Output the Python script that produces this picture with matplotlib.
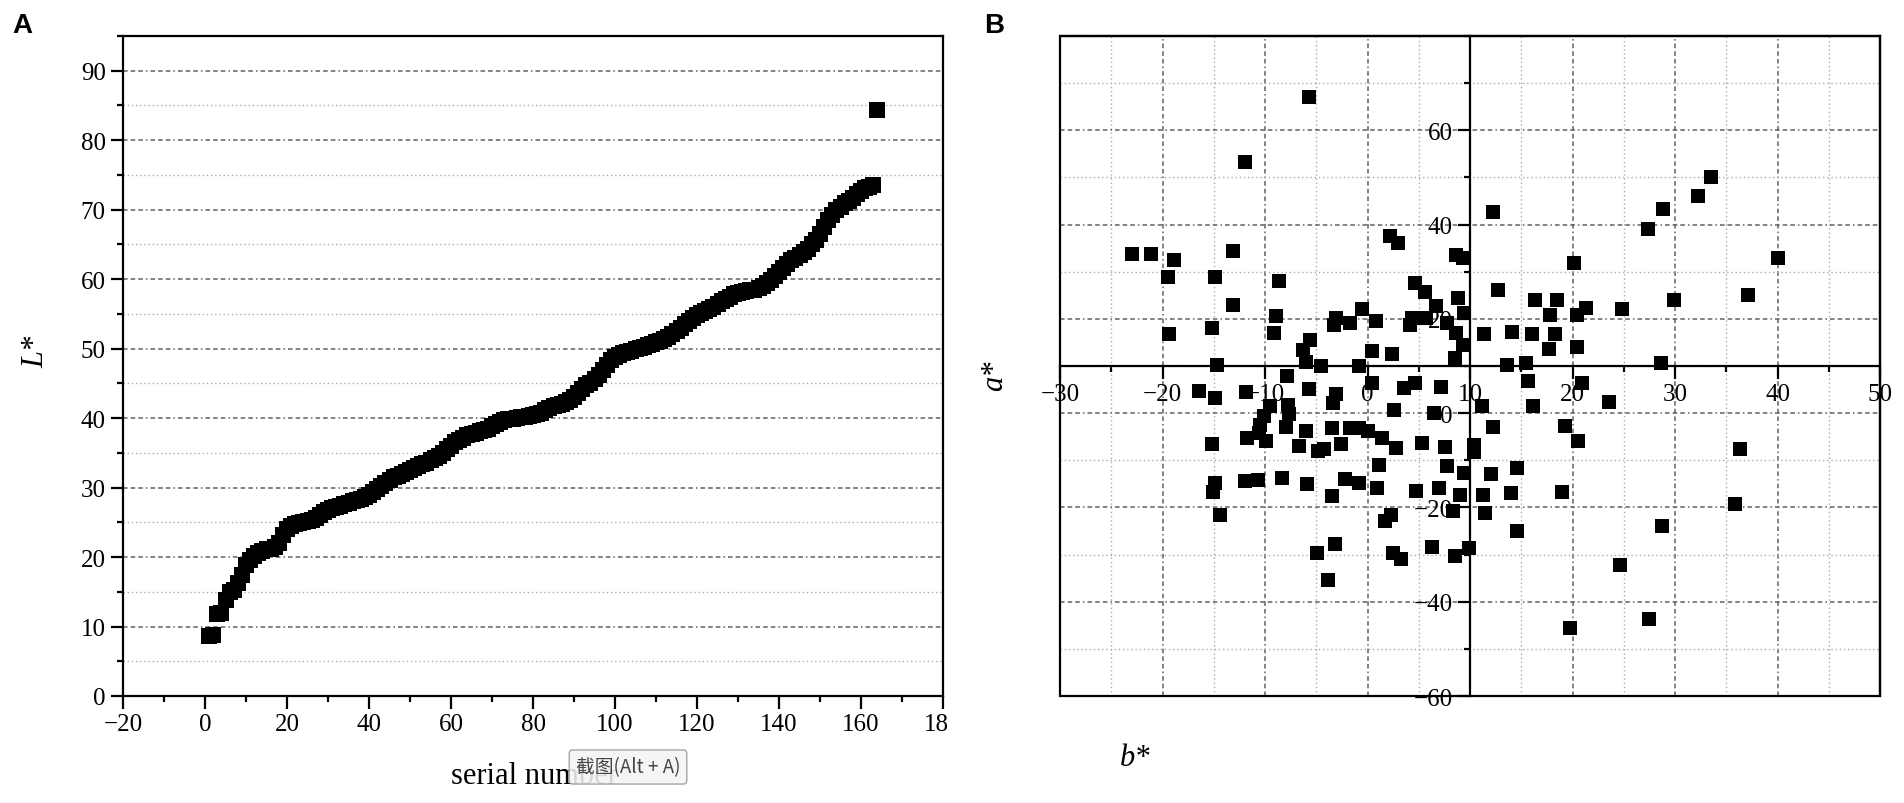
import numpy as np
import matplotlib.pyplot as plt
from matplotlib.ticker import MultipleLocator
from matplotlib.patches import Rectangle
from matplotlib.transforms import Bbox, TransformedBbox

plt.rcParams['font.family'] = ['Liberation Serif', 'DejaVu Serif']

# panel A: L* sorted by serial number
serial = np.arange(1, 165)
L_star = [
    8.6, 8.8, 11.8, 12.0, 13.8, 14.9, 15.3, 16.2, 17.4, 18.9,
    19.6, 20.2, 20.6, 20.9, 21.1, 21.2, 21.4, 22.0, 23.2, 24.0,
    24.4, 24.7, 24.9, 25.1, 25.2, 25.4, 25.6, 26.0, 26.5, 26.8,
    27.0, 27.2, 27.4, 27.6, 27.8, 28.0, 28.2, 28.4, 28.7, 29.0,
    29.4, 29.8, 30.2, 30.7, 31.1, 31.5, 31.7, 31.9, 32.2, 32.5,
    32.8, 33.1, 33.4, 33.6, 33.9, 34.2, 34.6, 35.0, 35.5, 36.0,
    36.5, 36.9, 37.2, 37.5, 37.7, 37.9, 38.1, 38.3, 38.5, 38.8,
    39.2, 39.5, 39.7, 39.8, 39.9, 40.0, 40.1, 40.2, 40.3, 40.4,
    40.6, 40.8, 41.1, 41.4, 41.7, 41.9, 42.1, 42.3, 42.6, 43.0,
    43.6, 44.2, 44.7, 45.1, 45.6, 46.2, 46.9, 47.6, 48.3, 48.8,
    49.1, 49.3, 49.5, 49.7, 49.9, 50.1, 50.3, 50.5, 50.7, 50.9,
    51.1, 51.4, 51.7, 52.1, 52.5, 53.0, 53.5, 54.0, 54.4, 54.8,
    55.1, 55.4, 55.7, 56.0, 56.4, 56.8, 57.2, 57.5, 57.8, 58.0,
    58.2, 58.3, 58.4, 58.5, 58.7, 59.0, 59.4, 59.9, 60.4, 61.0,
    61.6, 62.2, 62.7, 63.1, 63.5, 63.9, 64.4, 65.0, 65.7, 66.5,
    67.5, 68.5, 69.3, 69.9, 70.4, 70.9, 71.3, 71.7, 72.2, 72.7,
    73.1, 73.3, 73.5, 84.3,
]

# panel B: a* against b*
b_star = [
    -5.7, -12.0, -23.0, -21.1, -18.9, -19.5, -13.1, -14.9, -13.1, -8.6,
    -8.9, -9.1, -19.4, -15.2, -14.7, 2.2, 3.0, 8.6, 9.3, 4.6,
    5.6, 6.7, 4.3, 5.7, 4.1, 8.8, 7.8, 8.6, 8.5, 9.4,
    -3.1, -3.3, -1.75, -0.5, 0.8, 0.45, 2.4, -5.6, -6.3, -6.0,
    -4.5, -0.8, 9.3,
    12.2, 33.5, 32.2, 28.8, 27.4, 40.0, 20.1, 37.1, 29.9, 12.7,
    16.3, 18.5, 17.8, 20.4, 21.3, 24.8, 11.4, 14.1, 16.0, 18.3,
    17.7, 20.4, 13.6, 15.5, 28.6,
    -16.4, -14.9, -11.9, -7.9, -5.7, -3.1, -3.4,
    0.4, 3.6, 4.6, 7.2, 2.6, 6.5, -9.5, -10.1, -7.8, -7.7,
    -10.5, -10.6, -9.9, -11.75, -15.2, -8.0, -6.0, -6.7, -4.8, -4.2,
    -3.5, -2.6, -1.75, -0.8, 0.0, 1.4, 2.8, 1.1, 5.3, 7.6,
    7.8, 9.4, -12.0, -10.7, -8.3, -5.9, -2.2, -0.8, 0.9, -3.5,
    -14.9, -15.1, -14.4, 4.7, 7.0, 9.0, 8.3, 1.7, 2.3, 6.3,
    2.5, 3.3, 8.5, -4.9, -3.2, -3.9,
    15.7, 20.9, 11.2, 16.1, 23.6, 12.2, 19.3, 20.5,
    36.3, 10.4, 10.4, 12.0, 14.6, 11.3, 14.0, 19.0, 11.5, 14.6,
    35.9, 28.7, 24.6, 27.5, 19.8, 9.9,
]
a_star = [
    67.0, 53.3, 33.7, 33.7, 32.5, 28.9, 34.3, 28.9, 23.0, 28.0,
    20.7, 17.0, 16.8, 18.1, 10.2, 37.5, 36.1, 33.6, 33.0, 27.6,
    25.8, 22.7, 20.2, 20.2, 18.8, 24.4, 19.2, 17.0, 11.8, 21.3,
    20.2, 18.8, 19.2, 22.0, 19.5, 13.2, 12.5, 15.5, 13.5, 10.8,
    10.0, 10.0, 14.5,
    42.7, 50.1, 46.1, 43.2, 39.0, 32.9, 31.8, 25.1, 24.1, 26.2,
    24.1, 24.1, 20.9, 20.9, 22.3, 22.0, 16.7, 17.3, 16.8, 16.7,
    13.7, 14.1, 10.2, 10.7, 10.6,
    4.8, 3.2, 4.4, 7.9, 5.1, 4.1, 2.1,
    6.3, 5.3, 6.3, 5.5, 0.6, 0.0, 1.5, -0.7, 1.8, -0.1,
    -2.5, -4.2, -6.0, -5.3, -6.5, -3.0, -3.7, -7.0, -8.1, -7.7,
    -3.2, -6.5, -3.2, -3.2, -3.7, -5.3, -7.4, -11.1, -6.3, -7.2,
    -11.3, -12.7, -14.4, -14.1, -13.7, -15.1, -13.9, -14.8, -15.8, -17.6,
    -14.8, -16.8, -21.5, -16.5, -15.8, -17.3, -20.8, -22.9, -21.5, -28.3,
    -29.6, -31.0, -30.3, -29.7, -27.8, -35.4,
    6.9, 6.5, 1.5, 1.5, 2.3, -3.0, -2.7, -6.0,
    -7.6, -6.7, -8.3, -13.0, -11.6, -17.3, -17.0, -16.8, -21.1, -24.9,
    -19.2, -23.9, -32.3, -43.7, -45.6, -28.7,
]

W, H = 1904, 804
fig = plt.figure(figsize=(W / 100, H / 100), dpi=100)

major_ls = (0, (3, 2, 3, 2, 3, 2, 1, 2))
minor_ls = (0, (1, 2))
spine_w = 1.6


def style_ticks(ax):
    ax.tick_params(which='both', direction='out', width=spine_w, labelsize=18,
                   top=False, right=False, colors='k')
    ax.tick_params(which='major', length=9)
    ax.tick_params(which='minor', length=4.5)
    for s in ax.spines.values():
        s.set_linewidth(spine_w)


# ---- A ----
axA = fig.add_axes([123 / W, 107 / H, 820 / W, 660 / H])
axA.plot(serial, L_star, 's', color='k', ms=11, mew=0, zorder=3)
axA.set_xlim(-20, 180)
axA.set_ylim(0, 95)
axA.set_xticks(np.arange(-20, 181, 20))
axA.xaxis.set_minor_locator(MultipleLocator(10))
axA.set_yticks(np.arange(0, 91, 10))
axA.yaxis.set_minor_locator(MultipleLocator(5))
axA.grid(axis='y', which='major', color='#606060', lw=1.1, ls=major_ls)
axA.grid(axis='y', which='minor', color='#aaaaaa', lw=1.0, ls=minor_ls)
axA.set_axisbelow(True)
style_ticks(axA)
# right-most tick label is cut off in the original panel
last = axA.xaxis.get_major_ticks()[-1]
last.label1.set_clip_box(TransformedBbox(Bbox([[0, 0], [949 / W, 1]]), fig.transFigure))
last.label1.set_clip_on(True)

fig.text(36 / W, 1 - 352 / H, 'L*', rotation=90, ha='center', va='center',
         fontsize=22, style='italic')
fig.text(534 / W, 1 - 777 / H, 'serial number', ha='center', va='center', fontsize=22)

# ---- B ----
axB = fig.add_axes([1060 / W, 107 / H, 820 / W, 660 / H])
axB.plot(b_star, a_star, 's', color='k', ms=10.5, mew=0, zorder=3)
axB.set_xlim(-30, 50)
axB.set_ylim(-60, 80)
axB.set_xticks(np.arange(-30, 51, 10))
axB.xaxis.set_minor_locator(MultipleLocator(5))
axB.set_yticks(np.arange(-60, 61, 20))
axB.yaxis.set_minor_locator(MultipleLocator(10))
axB.grid(which='major', color='#606060', lw=1.1, ls=major_ls)
axB.grid(which='minor', color='#aaaaaa', lw=1.0, ls=minor_ls)
axB.set_axisbelow(True)
axB.spines['left'].set_position(('data', 10))
axB.spines['bottom'].set_position(('data', 10))
style_ticks(axB)
axB.add_patch(Rectangle((0, 0), 1, 1, transform=axB.transAxes, fill=False,
                        ec='k', lw=spine_w, clip_on=False, zorder=2.5))

fig.text(995 / W, 1 - 376 / H, 'a*', rotation=90, ha='center', va='center',
         fontsize=22, style='italic')
fig.text(1135 / W, 1 - 759 / H, 'b*', ha='center', va='center',
         fontsize=22, style='italic')

# panel letters
fig.text(22 / W, 1 - 26 / H, 'A', ha='center', va='center', fontsize=20,
         fontweight='bold', family=['Liberation Sans', 'DejaVu Sans'])
fig.text(994 / W, 1 - 26 / H, 'B', ha='center', va='center', fontsize=20,
         fontweight='bold', family=['Liberation Sans', 'DejaVu Sans'])

# screenshot tooltip sitting on the x label
fig.text(628 / W, 1 - 768 / H, '截图(Alt + A)', ha='center', va='center',
         fontsize=13.5, color='#444444',
         family=['Noto Sans CJK SC', 'DejaVu Sans'],
         bbox=dict(boxstyle='round,pad=0.35,rounding_size=0.2', fc='#f4f4f4',
                   ec='#9a9a9a', lw=1, alpha=0.88))

fig.savefig('out.png', dpi=100)
